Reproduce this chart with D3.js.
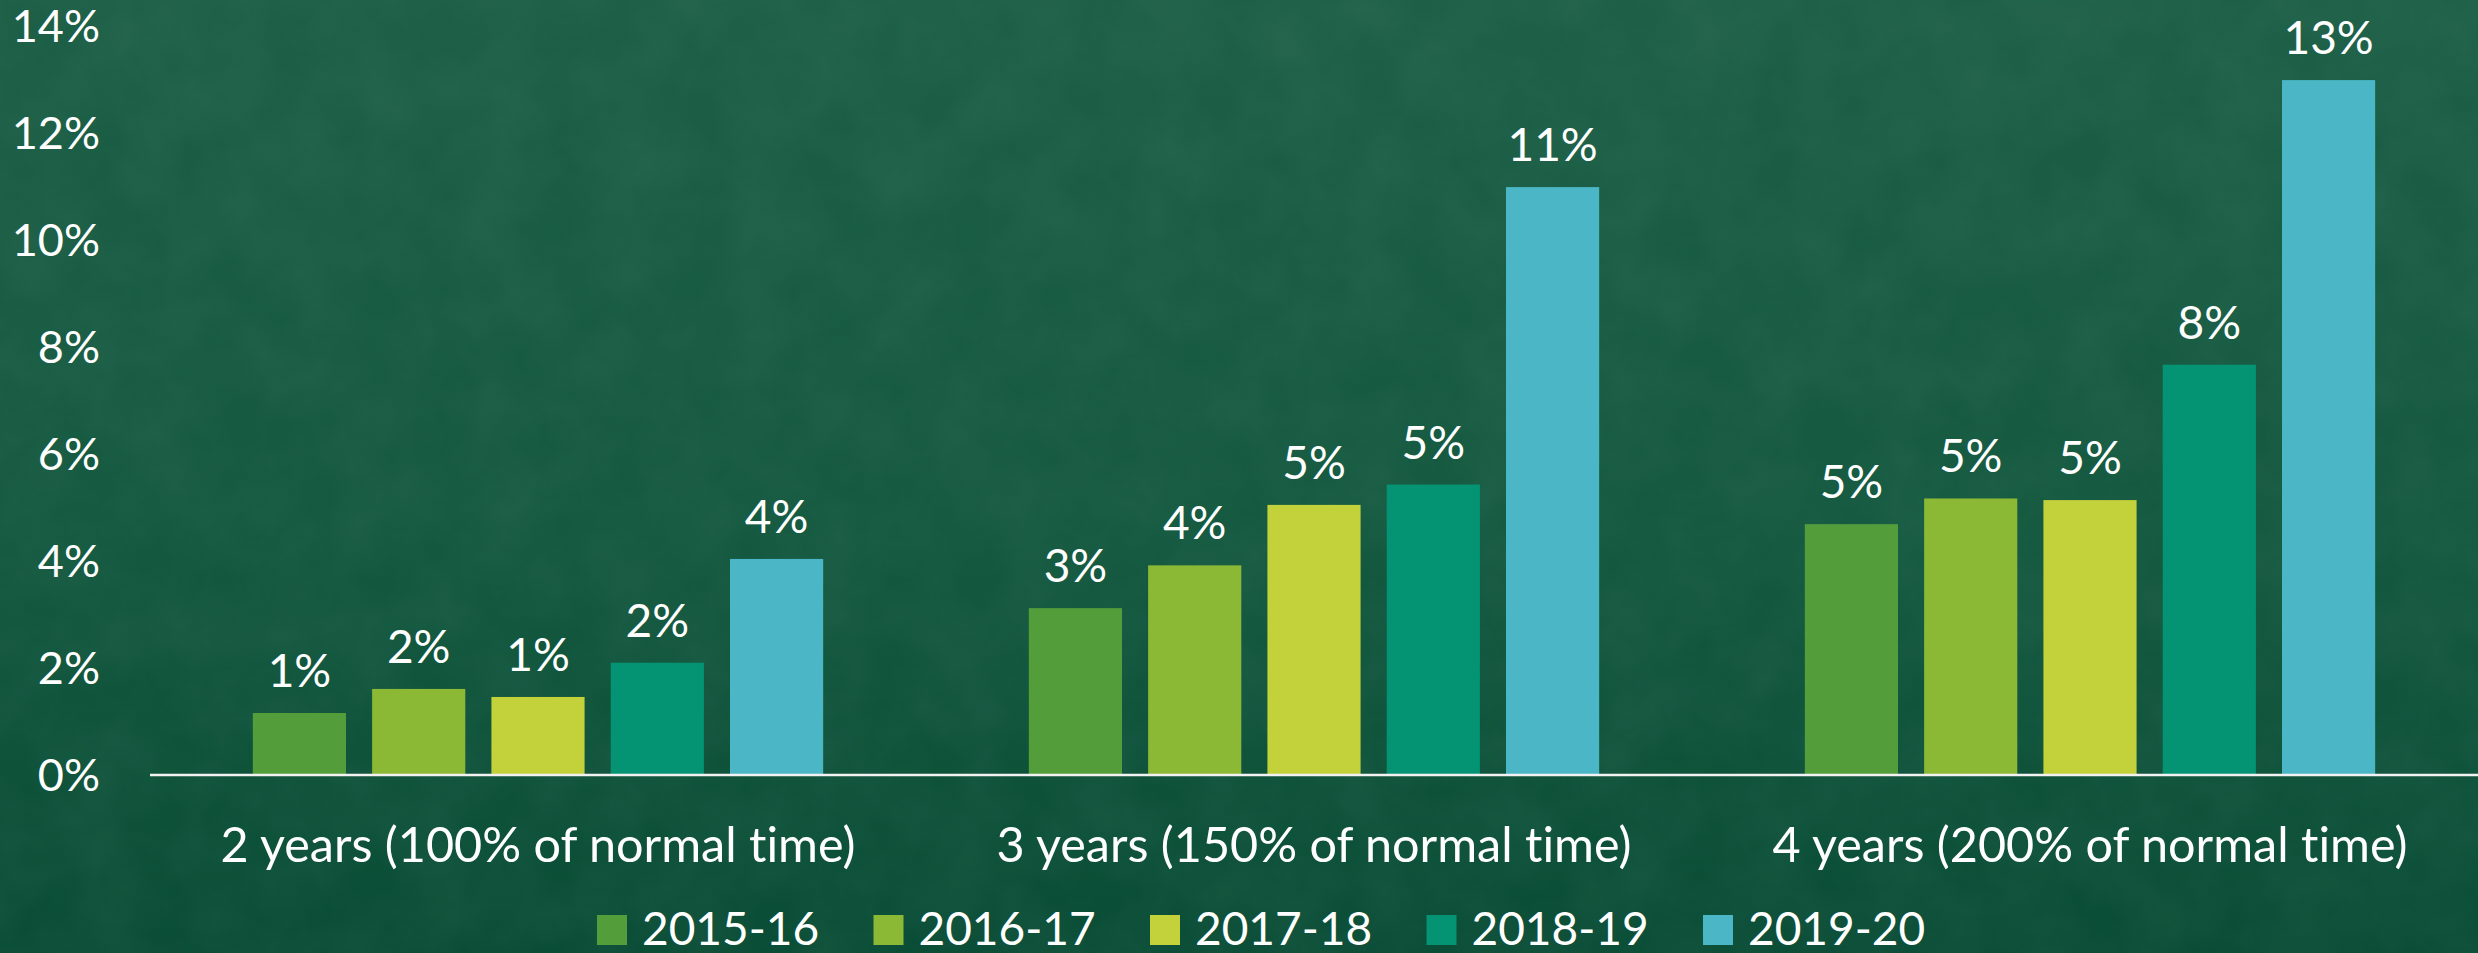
<!DOCTYPE html>
<html>
<head>
<meta charset="utf-8">
<script src="https://cdn.jsdelivr.net/npm/d3@7"></script>
<style>
  html, body { margin: 0; padding: 0; overflow: hidden; }
  svg { display: block; }
  text { font-family: "Lato", "Open Sans", sans-serif; fill: #ffffff; font-variant-ligatures: none; font-feature-settings: "liga" 0, "clig" 0; }
</style>
</head>
<body>
<svg id="chart" width="2478" height="953"></svg>
<script>
const categories = ["2 years (100% of normal time)", "3 years (150% of normal time)", "4 years (200% of normal time)"];
const seriesNames = ["2015-16", "2016-17", "2017-18", "2018-19", "2019-20"];
const seriesColors = ["#539e3b", "#8cb935", "#c3d13b", "#049473", "#4bb7c6"];
// values in percent, one array per series (index = category)
const s2015_16 = [1.14, 3.10, 4.67];
const s2016_17 = [1.59, 3.90, 5.15];
const s2017_18 = [1.44, 5.03, 5.12];
const s2018_19 = [2.08, 5.41, 7.65];
const s2019_20 = [4.02, 10.97, 12.97];
const seriesValues = [s2015_16, s2016_17, s2017_18, s2018_19, s2019_20];
const yTicks = [0, 2, 4, 6, 8, 10, 12, 14];

const W = 2478, H = 953;
const svg = d3.select("#chart");

// background
const defs = svg.append("defs");
const grad = defs.append("linearGradient").attr("id", "bg").attr("x1", 0).attr("y1", 0).attr("x2", 0).attr("y2", 1);
grad.append("stop").attr("offset", "0%").attr("stop-color", "#1d5f47");
grad.append("stop").attr("offset", "55%").attr("stop-color", "#145940");
grad.append("stop").attr("offset", "100%").attr("stop-color", "#0a4d36");
const filt = defs.append("filter").attr("id", "noise").attr("x", 0).attr("y", 0).attr("width", "100%").attr("height", "100%");
filt.append("feTurbulence").attr("type", "fractalNoise").attr("baseFrequency", 0.015).attr("numOctaves", 4).attr("seed", 4).attr("result", "t");
filt.append("feColorMatrix").attr("in", "t").attr("type", "matrix")
  .attr("values", "0 0 0 0 1  0 0 0 0 1  0 0 0 0 1  0 0 0 0.06 -0.015");
svg.append("rect").attr("width", W).attr("height", H).attr("fill", "url(#bg)");
svg.append("rect").attr("width", W).attr("height", H).attr("filter", "url(#noise)");

const plotLeft = 150, plotRight = 2478, yZero = 774, yTop = 25;

const x0 = d3.scaleBand().domain(categories).range([plotLeft, plotRight]).paddingInner(0).paddingOuter(0);
const x1 = d3.scaleBand().domain(seriesNames).range([0, x0.bandwidth()]).paddingInner(0.219).paddingOuter(0.862);
const y = d3.scaleLinear().domain([0, 14]).range([yZero, yTop]);

// y axis labels
const yAxis = d3.axisLeft(y).tickValues(yTicks).tickFormat(d => d + "%").tickSize(0).tickPadding(0);
const ya = svg.append("g").attr("transform", `translate(100,0)`).call(yAxis);
ya.select(".domain").remove();
ya.selectAll("text").attr("font-size", 45).attr("fill", "#fff").attr("font-family", "Lato, 'Open Sans', sans-serif").attr("dy", "0.36em");

// bars
const groups = svg.append("g").selectAll("g").data(seriesNames).join("g")
  .attr("fill", (d, i) => seriesColors[i]);
groups.selectAll("rect").data((s, si) => categories.map((c, ci) => ({ c, s, v: seriesValues[si][ci] })))
  .join("rect")
  .attr("x", d => x0(d.c) + x1(d.s))
  .attr("width", x1.bandwidth())
  .attr("y", d => y(d.v))
  .attr("height", d => y(0) - y(d.v));

// value labels
groups.selectAll("text").data((s, si) => categories.map((c, ci) => ({ c, s, v: seriesValues[si][ci] })))
  .join("text")
  .attr("x", d => x0(d.c) + x1(d.s) + x1.bandwidth() / 2)
  .attr("y", d => y(d.v) - 26)
  .attr("text-anchor", "middle")
  .attr("font-size", 46)
  .style("fill", "#fff")
  .text(d => Math.round(d.v) + "%");

// x axis line
svg.append("line").attr("x1", plotLeft).attr("x2", plotRight).attr("y1", yZero + 1).attr("y2", yZero + 1)
  .attr("stroke", "#f2f2f2").attr("stroke-width", 2.5);

// category labels
const xAxis = d3.axisBottom(x0).tickSize(0).tickPadding(0);
const xa = svg.append("g").attr("transform", `translate(0,${yZero})`).call(xAxis);
xa.select(".domain").remove();
xa.selectAll("text").attr("font-size", 48.5).attr("fill", "#fff").attr("font-family", "Lato, 'Open Sans', sans-serif")
  .style("font-variant-ligatures", "none")
  .attr("dy", null).attr("y", 88);

// legend
const legendX = 597, legendStep = 276.5;
const lg = svg.append("g").selectAll("g").data(seriesNames).join("g")
  .attr("transform", (d, i) => `translate(${legendX + i * legendStep},915)`);
lg.append("rect").attr("width", 30).attr("height", 30).attr("fill", (d, i) => seriesColors[i]);
lg.append("text").attr("x", 45).attr("y", 30).attr("font-size", 46).text(d => d);
</script>
</body>
</html>
